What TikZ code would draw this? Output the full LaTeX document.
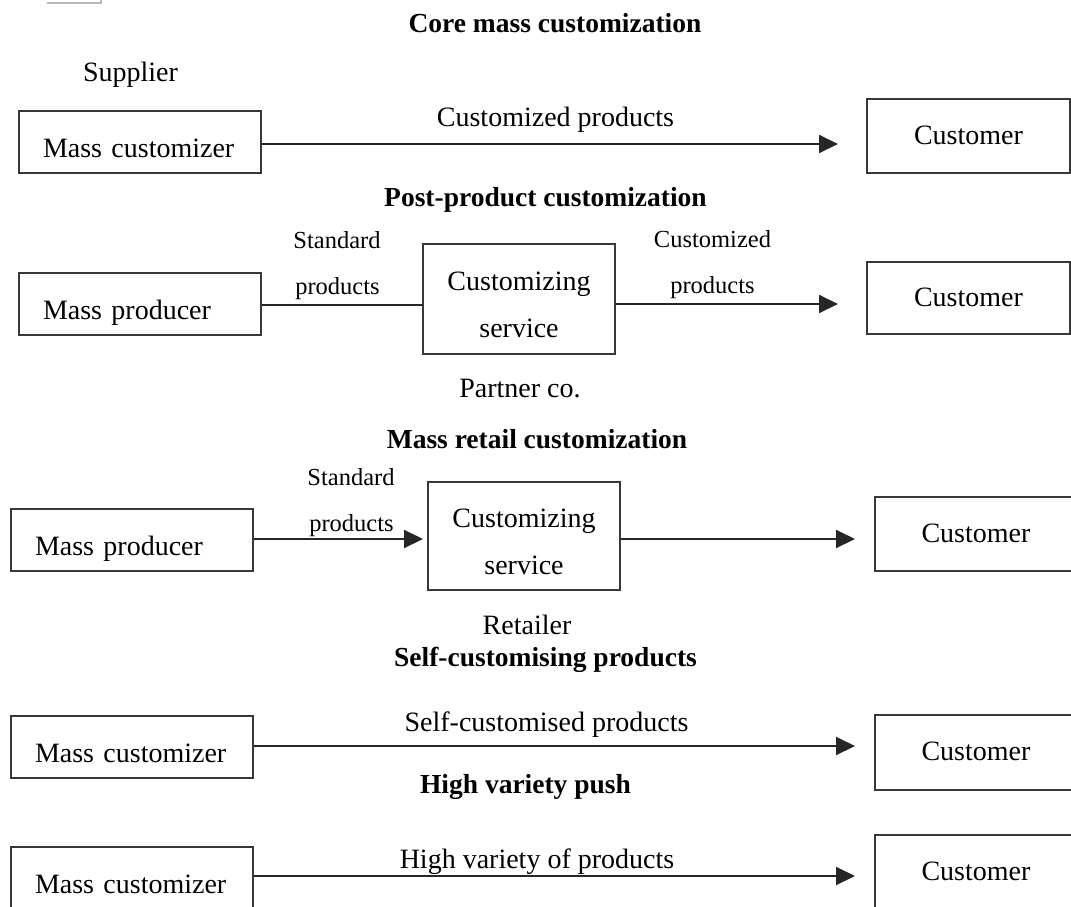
\documentclass[tikz,border=0pt]{standalone}
\usepackage{fontspec}
\setmainfont{Liberation Serif}
\usetikzlibrary{arrows.meta}

\newcommand\fbody{\fontsize{28}{34}\selectfont}
\newcommand\fsmall{\fontsize{24.5}{30}\selectfont}
\newcommand\fhead{\fontsize{27.5}{33}\selectfont\bfseries}
\newcommand\ftwo{\fontsize{28}{47}\selectfont}
\newcommand\topstrut{\rule{0pt}{31pt}}

\begin{document}
\begin{tikzpicture}[x=1pt,y=-1pt,
  frame/.style={draw=black!78, line width=1.7pt, inner sep=0pt},
  leftbox/.style={frame, minimum width=242pt, minimum height=62pt,
    text width=194pt, inner xsep=24pt, align=left,
    text height=36pt, text depth=6pt, font=\fbody},
  custbox/.style={frame, minimum height=#1, text height=20pt,
    text depth=4pt, font=\fbody},
  servbox/.style={frame, minimum width=192pt, minimum height=#1,
    align=center, font=\ftwo},
  head/.style={anchor=base, inner sep=0pt, font=\fhead},
  lbl/.style={anchor=base, inner sep=0pt, font=\fbody},
  small/.style={anchor=base, inner sep=0pt, font=\fsmall},
  conn/.style={draw=black!85, line width=1.9pt},
  arr/.style={conn, -{Triangle[length=19pt,width=18pt]}}]

\useasboundingbox (0,0) rectangle (1071,906);
\clip (0,0) rectangle (1071,906);

% stray rule at the top edge
\draw[gray!55, line width=1.2pt] (47,3) -- (101,3) -- (101,0);

% ---------- Core mass customization ----------
\node[head] (h1) at (555,32) {Core mass customization};
\node[lbl] (sup) at (130.5,81) {Supplier};
\node[leftbox] (mc1) at (140,142) {Mass customizer};
\node[custbox=74pt, minimum width=203pt] (cu1) at (968.5,136) {Customer};
\coordinate (t1) at (838,144);
\draw[arr] (mc1.east |- t1) -- (t1);
\node[lbl] (l1) at (555.5,126) {Customized products};

% ---------- Post-product customization ----------
\node[head] (h2) at (545.5,206) {Post-product customization};
\node[leftbox] (mp2) at (140,304) {Mass producer};
\node[servbox=110pt] (cs2) at (519,299) {\topstrut Customizing\\service};
\node[custbox=72pt, minimum width=203pt] (cu2) at (968.5,298) {Customer};
\coordinate (s2) at (423,305);
\draw[conn] (mp2.east |- s2) -- (s2);
\coordinate (t2) at (838,304);
\draw[arr] (cs2.east |- t2) -- (t2);
\node[small] (a2) at (337,248) {Standard};
\node[small] (b2) at (337.5,294) {products};
\node[small] (c2) at (712.5,247) {Customized};
\node[small] (d2) at (712.5,293) {products};
\node[lbl] (p2) at (520,397) {Partner co.};

% ---------- Mass retail customization ----------
\node[head] (h3) at (537,448) {Mass retail customization};
\node[leftbox] (mp3) at (132,540) {Mass producer};
\node[servbox=108pt] (cs3) at (524,536) {\topstrut Customizing\\service};
\node[custbox=74pt, minimum width=202pt] (cu3) at (976,534) {Customer};
\coordinate (s3) at (423,539);
\draw[arr] (mp3.east |- s3) -- (s3);
\coordinate (t3) at (855,539);
\draw[arr] (cs3.east |- t3) -- (t3);
\node[small] (a3) at (351,485) {Standard};
\node[small] (b3) at (351.5,531) {products};
\node[lbl] (r3) at (527,634) {Retailer};

% ---------- Self-customising products ----------
\node[head] (h4) at (545.5,666) {Self-customising products};
\node[leftbox] (mc4) at (132,747) {Mass customizer};
\node[custbox=75pt, minimum width=202pt] (cu4) at (976,752.5) {Customer};
\coordinate (t4) at (855,746);
\draw[arr] (mc4.east |- t4) -- (t4);
\node[lbl] (l4) at (546.5,731) {Self-customised products};

% ---------- High variety push ----------
\node[head] (h5) at (525.5,793) {High variety push};
\node[leftbox] (mc5) at (132,878) {Mass customizer};
\node[custbox=74pt, minimum width=202pt] (cu5) at (976,872) {Customer};
\coordinate (t5) at (855,876);
\draw[arr] (mc5.east |- t5) -- (t5);
\node[lbl] (l5) at (537,868) {High variety of products};

\end{tikzpicture}
\end{document}
